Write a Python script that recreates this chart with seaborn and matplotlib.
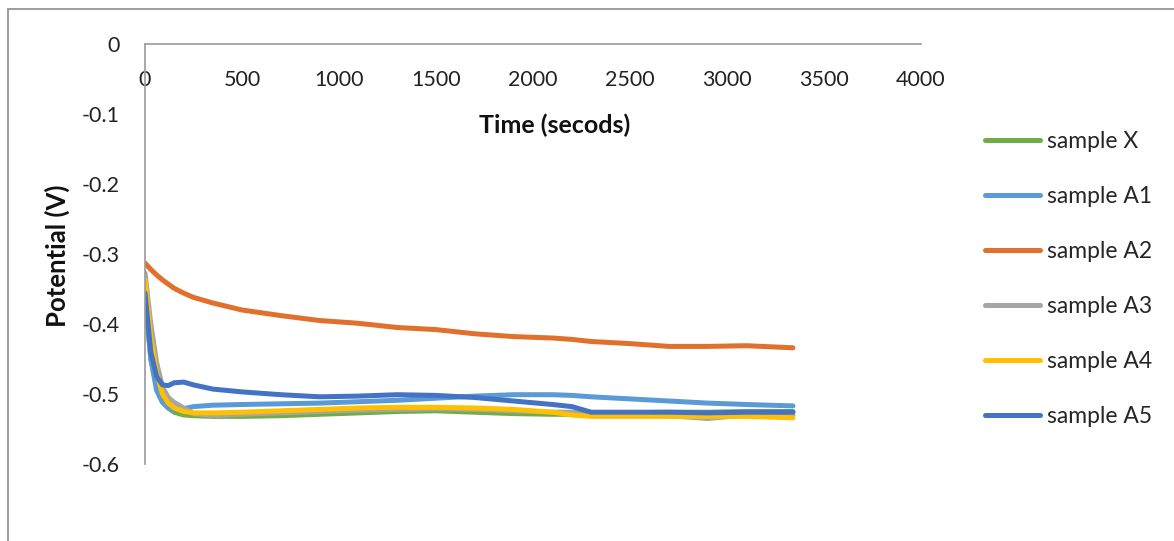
import matplotlib
matplotlib.use("Agg")
import matplotlib.pyplot as plt
from matplotlib.patches import Rectangle
import seaborn as sns
import pandas as pd

times = [0, 30, 60, 90, 120, 150, 200, 250, 350, 500, 700, 900, 1100, 1300,
         1500, 1700, 1900, 2100, 2200, 2300, 2500, 2700, 2900, 3100, 3340]

sample_x = [-0.360, -0.450, -0.490, -0.510, -0.520, -0.526, -0.530, -0.531, -0.532,
            -0.532, -0.531, -0.529, -0.527, -0.525, -0.524, -0.526, -0.528, -0.529,
            -0.529, -0.528, -0.527, -0.526, -0.526, -0.525, -0.525]
sample_a1 = [-0.350, -0.450, -0.495, -0.512, -0.520, -0.523, -0.521, -0.518, -0.516,
             -0.515, -0.514, -0.513, -0.511, -0.509, -0.506, -0.503, -0.501, -0.501,
             -0.502, -0.504, -0.507, -0.510, -0.513, -0.515, -0.517]
sample_a2 = [-0.313, -0.322, -0.330, -0.337, -0.343, -0.349, -0.356, -0.362, -0.370,
             -0.380, -0.388, -0.395, -0.399, -0.405, -0.408, -0.414, -0.418, -0.420,
             -0.422, -0.425, -0.428, -0.432, -0.432, -0.431, -0.434]
sample_a3 = [-0.327, -0.400, -0.455, -0.490, -0.505, -0.512, -0.520, -0.528, -0.531,
             -0.529, -0.527, -0.525, -0.523, -0.522, -0.521, -0.522, -0.524, -0.526,
             -0.526, -0.527, -0.528, -0.531, -0.535, -0.530, -0.530]
sample_a4 = [-0.337, -0.420, -0.470, -0.500, -0.513, -0.520, -0.525, -0.527, -0.527,
             -0.526, -0.524, -0.522, -0.520, -0.519, -0.519, -0.520, -0.522, -0.526,
             -0.530, -0.532, -0.532, -0.532, -0.532, -0.532, -0.534]
sample_a5 = [-0.356, -0.440, -0.475, -0.487, -0.488, -0.484, -0.483, -0.487, -0.493,
             -0.497, -0.501, -0.504, -0.503, -0.501, -0.502, -0.505, -0.510, -0.515,
             -0.518, -0.526, -0.526, -0.526, -0.527, -0.526, -0.526]

names = ["sample X", "sample A1", "sample A2", "sample A3", "sample A4", "sample A5"]
colors = ["#70AD47", "#5B9BD5", "#E0702B", "#A5A5A5", "#FFC000", "#4472C4"]
series = [sample_x, sample_a1, sample_a2, sample_a3, sample_a4, sample_a5]

rows = []
for name, vals in zip(names, series):
    for t, v in zip(times, vals):
        rows.append({"time": t, "potential": v, "sample": name})
df = pd.DataFrame(rows)

sns.set_style("white")
plt.rcParams["font.family"] = ["Lato", "DejaVu Sans"]

fig = plt.figure(figsize=(11.74, 5.41), dpi=100)
ax = fig.add_axes([145 / 1174, 1 - 464 / 541, 776 / 1174, 420 / 541])

sns.lineplot(data=df, x="time", y="potential", hue="sample", hue_order=names,
             palette=colors, linewidth=3.6, ax=ax, legend=False, sort=False)

ax.set_xlim(0, 4000)
ax.set_ylim(-0.6, 0)
ax.set_xticks(range(0, 4001, 500))
ax.set_yticks([0, -0.1, -0.2, -0.3, -0.4, -0.5, -0.6])
ax.set_yticklabels(["0", "-0.1", "-0.2", "-0.3", "-0.4", "-0.5", "-0.6"])

for s in ["top", "right"]:
    ax.spines[s].set_visible(False)
ax.spines["bottom"].set_position(("data", 0))
for s in ["bottom", "left"]:
    ax.spines[s].set_color("#9a9a9a")
    ax.spines[s].set_linewidth(1.2)
ax.tick_params(axis="both", direction="out", length=6, width=1.2, color="#9a9a9a",
               labelsize=15.5, labelcolor="#222222")
ax.tick_params(axis="x", pad=13)
ax.tick_params(axis="y", pad=12)
ax.set_xlabel("")
ax.set_ylabel("")

fig.text(555 / 1174, 1 - 125 / 541, "Time (secods)", ha="center", va="center",
         fontsize=18, fontweight="bold", color="#111111")
fig.text(57 / 1174, 1 - 256 / 541, "Potential (V)", ha="center", va="center",
         rotation=90, fontsize=18.5, fontweight="bold", color="#111111")

handles = [plt.Line2D([], [], color=c, linewidth=3.6, solid_capstyle="round") for c in colors]
fig.legend(handles, names, loc="center left", bbox_to_anchor=(985 / 1174, 1 - 279 / 541),
           frameon=False, fontsize=16.5, handlelength=2.4, handletextpad=0.3,
           labelspacing=1.48, borderpad=0, borderaxespad=0)

fig.add_artist(Rectangle((8 / 1174, -0.1), 1.2, 1.1 - 9 / 541, transform=fig.transFigure,
                         fill=False, edgecolor="#8c8c8c", linewidth=1.2))

fig.savefig("out.png", dpi=100)
